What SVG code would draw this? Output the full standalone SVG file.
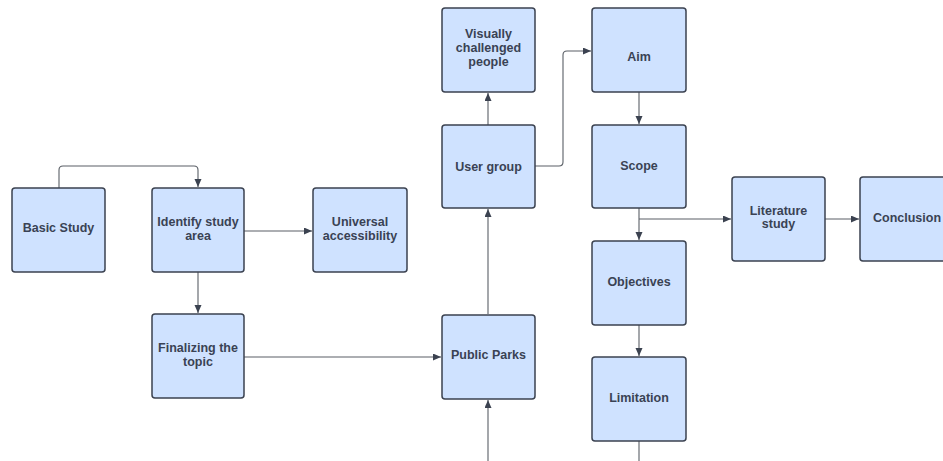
<svg xmlns="http://www.w3.org/2000/svg" width="943" height="461" viewBox="0 0 943 461">
  <style>
    .box { fill: #cfe2ff; stroke: #3b4250; stroke-width: 1.5; }
    .lbl { font-family: "Liberation Sans", Arial, sans-serif; font-weight: bold; font-size: 12.5px; fill: #3a4254; text-anchor: middle; }
    .edge { fill: none; stroke: #5a5f66; stroke-width: 1.1; marker-end: url(#arrow); }
  </style>
  <defs>
    <marker id="arrow" markerUnits="userSpaceOnUse" markerWidth="9" markerHeight="8" refX="8" refY="3.5" orient="auto">
      <path d="M0,0 L8,3.5 L0,7 Z" fill="#3b4250"/>
    </marker>
  </defs>
  <rect width="943" height="461" fill="#ffffff"/>

  <g id="connectors">
    <path class="edge" d="M59 188 V170 Q59 166 63 166 H194 Q198 166 198 170 V187"/>
    <path class="edge" d="M244 231 H312"/>
    <path class="edge" d="M198 272 V313"/>
    <path class="edge" d="M244 357 H441"/>
    <path class="edge" d="M488 461 V400"/>
    <path class="edge" d="M488 314 V209"/>
    <path class="edge" d="M488 125 V93"/>
    <path class="edge" d="M535 166 H559 Q563 166 563 162 V55 Q563 51 567 51 H591"/>
    <path class="edge" d="M639 92 V124"/>
    <path class="edge" d="M639 208 V240"/>
    <path class="edge" d="M639 219 H731"/>
    <path class="edge" d="M825 219 H859"/>
    <path class="edge" d="M639 325 V356"/>
    <path style="fill:none;stroke:#5a5f66;stroke-width:1.1" d="M639 441 V461"/>
  </g>

  <g id="basic-study">
    <rect class="box" x="12" y="188" width="93" height="84" rx="3"/>
    <text class="lbl" x="58.5" y="232">Basic Study</text>
  </g>
  <g id="identify-study-area">
    <rect class="box" x="152" y="188" width="92" height="84" rx="3"/>
    <text class="lbl" x="198" y="226">Identify study</text>
    <text class="lbl" x="198" y="239.5">area</text>
  </g>
  <g id="universal-accessibility">
    <rect class="box" x="313" y="188" width="94" height="84" rx="3"/>
    <text class="lbl" x="360" y="226">Universal</text>
    <text class="lbl" x="360" y="239.5">accessibility</text>
  </g>
  <g id="finalizing-topic">
    <rect class="box" x="152" y="314" width="92" height="84" rx="3"/>
    <text class="lbl" x="198" y="352">Finalizing the</text>
    <text class="lbl" x="198" y="365.5">topic</text>
  </g>
  <g id="public-parks">
    <rect class="box" x="442" y="315" width="93" height="84" rx="3"/>
    <text class="lbl" x="488.5" y="358.5">Public Parks</text>
  </g>
  <g id="user-group">
    <rect class="box" x="442" y="125" width="93" height="83" rx="3"/>
    <text class="lbl" x="488.5" y="170.5">User group</text>
  </g>
  <g id="visually-challenged">
    <rect class="box" x="442" y="8" width="93" height="84" rx="3"/>
    <text class="lbl" x="488.5" y="38">Visually</text>
    <text class="lbl" x="488.5" y="52">challenged</text>
    <text class="lbl" x="488.5" y="66">people</text>
  </g>
  <g id="aim">
    <rect class="box" x="592" y="8" width="94" height="84" rx="3"/>
    <text class="lbl" x="639" y="61">Aim</text>
  </g>
  <g id="scope">
    <rect class="box" x="592" y="125" width="94" height="83" rx="3"/>
    <text class="lbl" x="639" y="170">Scope</text>
  </g>
  <g id="objectives">
    <rect class="box" x="592" y="241" width="94" height="84" rx="3"/>
    <text class="lbl" x="639" y="285.5">Objectives</text>
  </g>
  <g id="limitation">
    <rect class="box" x="592" y="357" width="94" height="84" rx="3"/>
    <text class="lbl" x="639" y="401.5">Limitation</text>
  </g>
  <g id="literature-study">
    <rect class="box" x="732" y="177" width="93" height="84" rx="3"/>
    <text class="lbl" x="778.5" y="214.5">Literature</text>
    <text class="lbl" x="778.5" y="228">study</text>
  </g>
  <g id="conclusion">
    <rect class="box" x="860" y="177" width="93" height="84" rx="3"/>
    <text class="lbl" x="907" y="221.5">Conclusion</text>
  </g>
</svg>
